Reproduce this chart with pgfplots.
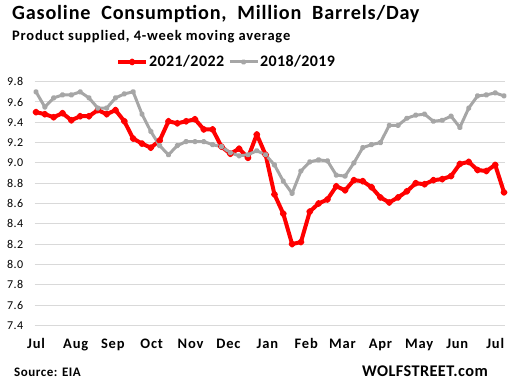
\documentclass[border=0pt]{standalone}
\usepackage{pgfplots}
\pgfplotsset{compat=1.18}
\usepackage{fontspec}
\setmainfont{Carlito}
\newfontfamily\wideS[LetterSpace=2.5]{Carlito}
\newfontfamily\wideA[LetterSpace=4]{Carlito}
\newfontfamily\wideB[LetterSpace=5.5]{Carlito}
\definecolor{gridc}{RGB}{217,217,217}
\definecolor{grayl}{RGB}{166,166,166}
\definecolor{redl}{RGB}{255,0,0}
\begin{document}
\begin{tikzpicture}[x=1pt,y=1pt]
\path[use as bounding box] (0,0) rectangle (514,386);
\node[anchor=west, font=\wideA\fontsize{20.2}{22}\selectfont\bfseries, inner sep=0] at (12,372) {Gasoline\ \ Consumption,\ \ Million\ \ Barrels/Day};
\node[anchor=west, font=\wideB\fontsize{14.5}{17}\selectfont\bfseries, inner sep=0] at (12,349) {Product supplied, 4-week moving average};
\node[anchor=west, font=\wideA\fontsize{13}{15}\selectfont\bfseries, inner sep=0] at (14,14) {Source: EIA};
\node[anchor=east, font=\wideS\fontsize{16.3}{19}\selectfont\bfseries, inner sep=0] at (488,14.3) {WOLFSTREET.com};
\begin{axis}[
  at={(34.7pt,60.7pt)}, anchor=south west, scale only axis,
  width=470.3pt, height=243.6pt,
  xmin=-0.15, xmax=53.11, ymin=7.4, ymax=9.8,
  axis line style={draw=none}, major tick length=0pt,
  ymajorgrids, grid style={gridc, line width=1pt},
  ytick={7.4,7.6,7.8,8.0,8.2,8.4,8.6,8.8,9.0,9.2,9.4,9.6,9.8},
  yticklabel style={font=\wideA\fontsize{12}{14}\selectfont, anchor=east, xshift=-8pt},
  xtick={0,4.5,8.7,13.1,17.5,21.8,26.2,30.6,34.7,39.0,43.4,47.7,52.0},
  xticklabels={Jul,Aug,Sep,Oct,Nov,Dec,Jan,Feb,Mar,Apr,May,Jun,Jul},
  xticklabel style={font=\wideB\fontsize{14.5}{17}\selectfont\bfseries, anchor=base, yshift=-23.5pt},
  legend style={at={(0.407,1.081)}, anchor=center, draw=none, fill=none,
    font=\wideS\fontsize{16}{18}\selectfont\bfseries, legend columns=2,
    nodes={inner sep=1pt},
    /tikz/every even column/.append style={column sep=3pt}},
  legend image code/.code={\draw[mark repeat=2,mark phase=2,#1] plot coordinates {(0pt,0pt) (14pt,0pt) (28pt,0pt)};},
  /pgf/number format/fixed, /pgf/number format/fixed zerofill,
  /pgf/number format/precision=1, /pgf/number format/assume math mode=true,
]
\addplot[redl, line width=4pt, line join=round, mark=*, mark size=1.4pt, mark options={fill=black, draw=none}] table {
x y
0 9.50
1 9.48
2 9.45
3 9.49
4 9.42
5 9.46
6 9.46
7 9.52
8 9.48
9 9.52
10 9.41
11 9.24
12 9.19
13 9.15
14 9.22
15 9.41
16 9.39
17 9.41
18 9.43
19 9.33
20 9.33
21 9.16
22 9.09
23 9.14
24 9.05
25 9.28
26 9.08
27 8.69
28 8.50
29 8.20
30 8.22
31 8.52
32 8.60
33 8.64
34 8.77
35 8.73
36 8.83
37 8.82
38 8.76
39 8.66
40 8.61
41 8.66
42 8.72
43 8.80
44 8.79
45 8.83
46 8.84
47 8.87
48 8.99
49 9.01
50 8.93
51 8.92
52 8.98
53 8.71
};
\addlegendentry{2021/2022}
\addplot[grayl, line width=3pt, line join=round, mark=*, mark size=1.4pt, mark options={fill=black, draw=none}] table {
x y
0 9.70
1 9.55
2 9.64
3 9.67
4 9.67
5 9.70
6 9.64
7 9.54
8 9.54
9 9.64
10 9.68
11 9.70
12 9.48
13 9.31
14 9.17
15 9.08
16 9.17
17 9.21
18 9.21
19 9.21
20 9.18
21 9.16
22 9.10
23 9.07
24 9.08
25 9.12
26 9.08
27 8.98
28 8.82
29 8.70
30 8.92
31 9.01
32 9.03
33 9.02
34 8.88
35 8.87
36 9.00
37 9.15
38 9.18
39 9.20
40 9.37
41 9.37
42 9.44
43 9.47
44 9.48
45 9.41
46 9.42
47 9.46
48 9.35
49 9.54
50 9.66
51 9.67
52 9.69
53 9.66
};
\addlegendentry{2018/2019}
\end{axis}
\end{tikzpicture}
\end{document}
